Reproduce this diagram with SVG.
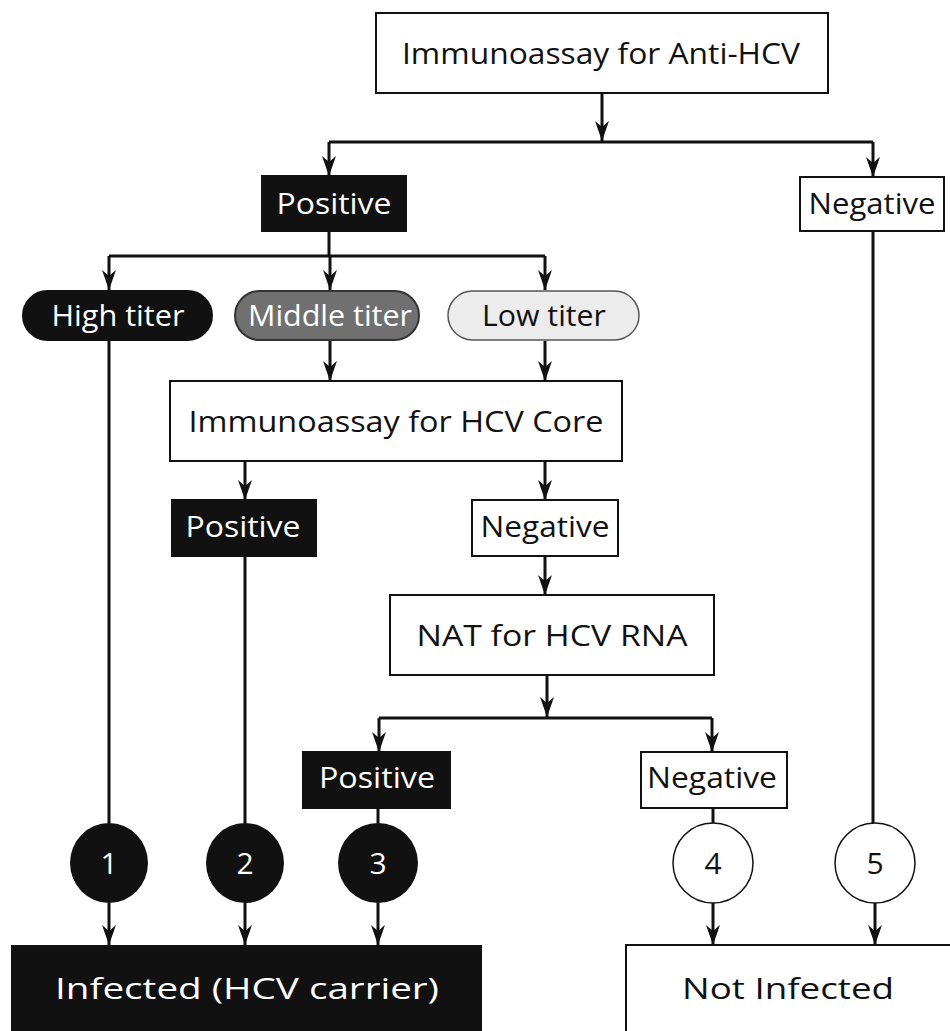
<svg xmlns="http://www.w3.org/2000/svg" width="950" height="1031" viewBox="0 0 950 1031">
<style>
text{font-family:"Open Sans","Liberation Sans",sans-serif;font-size:30px;text-anchor:middle}
.w{fill:#fff}.k{fill:#111}
.box{fill:#fff;stroke:#111;stroke-width:2}
.blk{fill:#111;stroke:#111;stroke-width:2}
.ln{fill:none;stroke:#111;stroke-width:3}
.ar{fill:none;stroke:#111;stroke-width:3;marker-end:url(#ah)}
</style>
<defs>
<marker id="ah" viewBox="0 0 20 14" refX="20" refY="7" markerWidth="20" markerHeight="14" markerUnits="userSpaceOnUse" orient="auto">
<path d="M0,0 L20,7 L0,14 L6,7 z" fill="#111"/>
</marker>
</defs>
<rect width="950" height="1031" fill="#fff"/>
<g id="connectors">
<path class="ar" d="M602,93 V141"/>
<path class="ln" d="M329,142 H873"/>
<path class="ar" d="M329,142 V176"/>
<path class="ar" d="M873,142 V177"/>
<path class="ln" d="M329,231 V256"/>
<path class="ln" d="M109,256 H545"/>
<path class="ar" d="M109,256 V290"/>
<path class="ar" d="M330,256 V290"/>
<path class="ar" d="M545,256 V290"/>
<path class="ar" d="M330,341 V381"/>
<path class="ar" d="M545,341 V381"/>
<path class="ln" d="M109,340 V823"/>
<path class="ar" d="M245,461 V500"/>
<path class="ar" d="M545,461 V500"/>
<path class="ln" d="M245,556 V823"/>
<path class="ar" d="M545,556 V595"/>
<path class="ar" d="M547,675 V717"/>
<path class="ln" d="M379,718 H712"/>
<path class="ar" d="M379,718 V752"/>
<path class="ar" d="M712,718 V752"/>
<path class="ln" d="M378,808 V823"/>
<path class="ln" d="M713,808 V823"/>
<path class="ln" d="M873,231 V823"/>
<path class="ar" d="M109,903 V945"/>
<path class="ar" d="M245,903 V945"/>
<path class="ar" d="M378,903 V945"/>
<path class="ar" d="M713,903 V945"/>
<path class="ar" d="M875,903 V945"/>
</g>
<g id="anti-hcv"><rect class="box" x="376" y="13" width="452" height="80"/><text class="k" x="601" y="64" textLength="398" lengthAdjust="spacingAndGlyphs">Immunoassay for Anti-HCV</text></g>
<g id="positive1"><rect class="blk" x="262" y="176" width="144" height="55"/><text class="w" x="334" y="214" textLength="115" lengthAdjust="spacingAndGlyphs">Positive</text></g>
<g id="negative1"><rect class="box" x="800" y="177" width="144" height="54"/><text class="k" x="872" y="214" textLength="127" lengthAdjust="spacingAndGlyphs">Negative</text></g>
<g id="high"><rect x="23" y="291" width="189" height="49" rx="24.5" fill="#111" stroke="#111" stroke-width="2"/><text class="w" x="118" y="326" textLength="133" lengthAdjust="spacingAndGlyphs">High titer</text></g>
<g id="middle"><rect x="235" y="291" width="184" height="49" rx="24.5" fill="#707070" stroke="#333" stroke-width="2"/><text class="w" x="330" y="326" textLength="164" lengthAdjust="spacingAndGlyphs">Middle titer</text></g>
<g id="low"><rect x="448" y="291" width="191" height="49" rx="24.5" fill="#ececec" stroke="#555" stroke-width="1.5"/><text class="k" x="544" y="326" textLength="124" lengthAdjust="spacingAndGlyphs">Low titer</text></g>
<g id="core"><rect class="box" x="170" y="381" width="452" height="80"/><text class="k" x="396" y="432" textLength="415" lengthAdjust="spacingAndGlyphs">Immunoassay for HCV Core</text></g>
<g id="positive2"><rect class="blk" x="172" y="500" width="144" height="56"/><text class="w" x="243" y="537" textLength="115" lengthAdjust="spacingAndGlyphs">Positive</text></g>
<g id="negative2"><rect class="box" x="472" y="500" width="146" height="56"/><text class="k" x="545" y="537" textLength="129" lengthAdjust="spacingAndGlyphs">Negative</text></g>
<g id="nat"><rect class="box" x="390" y="595" width="324" height="80"/><text class="k" x="552" y="646" textLength="271" lengthAdjust="spacingAndGlyphs">NAT for HCV RNA</text></g>
<g id="positive3"><rect class="blk" x="303" y="752" width="147" height="56"/><text class="w" x="377" y="788" textLength="116" lengthAdjust="spacingAndGlyphs">Positive</text></g>
<g id="negative3"><rect class="box" x="641" y="752" width="146" height="56"/><text class="k" x="712" y="788" textLength="130" lengthAdjust="spacingAndGlyphs">Negative</text></g>
<g id="c1"><ellipse cx="109" cy="863" rx="39" ry="40" fill="#111"/><text class="w" x="109" y="874" font-size="31">1</text></g>
<g id="c2"><ellipse cx="245" cy="863" rx="39" ry="40" fill="#111"/><text class="w" x="245" y="874" font-size="31">2</text></g>
<g id="c3"><ellipse cx="378" cy="863" rx="40" ry="40" fill="#111"/><text class="w" x="378" y="874" font-size="31">3</text></g>
<g id="c4"><ellipse cx="713" cy="863" rx="40" ry="40" fill="#fff" stroke="#111" stroke-width="1.5"/><text class="k" x="713" y="874" font-size="31">4</text></g>
<g id="c5"><ellipse cx="875" cy="863" rx="40" ry="40" fill="#fff" stroke="#111" stroke-width="1.5"/><text class="k" x="875" y="874" font-size="31">5</text></g>
<g id="infected"><rect x="11" y="945" width="471" height="90" fill="#111"/><text class="w" x="247" y="999" font-size="37" textLength="384" lengthAdjust="spacingAndGlyphs">Infected (HCV carrier)</text></g>
<g id="notinfected"><rect x="626" y="945" width="330" height="90" fill="#fff" stroke="#111" stroke-width="2"/><text class="k" x="788" y="999" font-size="37" textLength="212" lengthAdjust="spacingAndGlyphs">Not Infected</text></g>
</svg>
